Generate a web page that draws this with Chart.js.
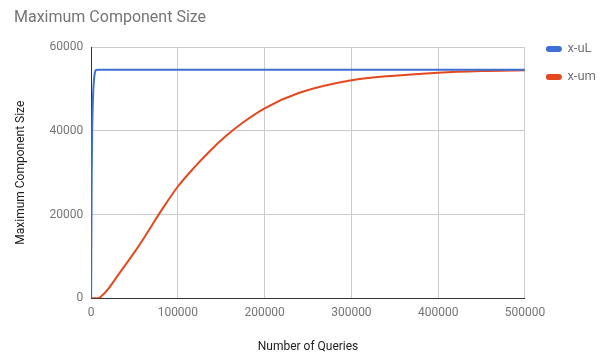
<!DOCTYPE html>
<html>
<head>
<meta charset="utf-8">
<script src="https://cdn.jsdelivr.net/npm/chart.js@4"></script>
<style>
  html, body { margin: 0; padding: 0; background: #fff; }
  #wrap { width: 605px; height: 360px; }
</style>
</head>
<body>
<div id="wrap"><canvas id="chart"></canvas></div>
<script>
const seriesNames = ['x-uL', 'x-um']
const seriesColors = ['#3d6fd5', '#e4491e']

// queries vs max component size
const uLQueries = [0, 300, 700, 1200, 2000, 3000, 4000, 5500, 8000, 500000]
const uLSizes = [0, 15000, 30000, 40000, 47000, 51500, 53500, 54500, 54600, 54600]

const umQueries = [0, 8000, 12000, 20000, 30000, 40000, 50000, 60000, 70000, 82000, 100000, 120000, 137000, 155000, 175000, 200000, 240000, 300000, 350000, 400000, 450000, 500000]
const umSizes = [0, 0, 500, 2300, 5200, 8100, 11000, 14100, 17400, 21300, 26700, 31500, 35200, 38700, 42000, 45400, 49100, 52100, 53200, 53900, 54300, 54500]

const xTicks = [0, 100000, 200000, 300000, 400000, 500000]
const yTicks = [0, 20000, 40000, 60000]

function points(xs, ys) {
  return xs.map((x, i) => ({ x: x, y: ys[i] }))
}

// nudge the legend a bit to the right of the plot, like the google chart
const legendNudge = {
  id: 'legendNudge',
  afterLayout(chart) {
    if (chart.legend) {
      chart.legend.left += 7
      chart.legend.right += 7
    }
  },
}

Chart.defaults.font.family = 'Roboto, "Noto Sans", sans-serif'
Chart.defaults.color = '#757575'

const ctx = document.getElementById('chart').getContext('2d')
const chart = new Chart(ctx, {
  type: 'line',
  data: {
    datasets: [
      {
        label: seriesNames[0],
        data: points(uLQueries, uLSizes),
        borderColor: seriesColors[0],
        backgroundColor: seriesColors[0],
        borderWidth: 2,
        pointRadius: 0,
        cubicInterpolationMode: 'monotone',
      },
      {
        label: seriesNames[1],
        data: points(umQueries, umSizes),
        borderColor: seriesColors[1],
        backgroundColor: seriesColors[1],
        borderWidth: 2,
        pointRadius: 0,
        cubicInterpolationMode: 'monotone',
      },
    ],
  },
  plugins: [legendNudge],
  options: {
    responsive: true,
    maintainAspectRatio: false,
    animation: false,
    layout: { padding: { left: 14, right: 6, top: 0, bottom: 6 } },
    plugins: {
      title: {
        display: true,
        text: 'Maximum Component Size',
        align: 'start',
        color: '#757575',
        font: { size: 16, weight: 'normal' },
        padding: { top: 8, bottom: 20 },
      },
      legend: {
        position: 'right',
        align: 'start',
        title: {
          display: true,
          text: ' ',
          font: { size: 12 },
          padding: { top: 6, bottom: 7 },
        },
        labels: {
          boxWidth: 14,
          boxHeight: 4,
          useBorderRadius: true,
          borderRadius: 2,
          padding: 15,
          color: '#757575',
          font: { size: 13 },
        },
      },
      tooltip: { enabled: false },
    },
    scales: {
      x: {
        type: 'linear',
        min: 0,
        max: 500000,
        afterBuildTicks: (axis) => { axis.ticks = xTicks.map((v) => ({ value: v })) },
        ticks: {
          callback: (v) => String(v),
          color: '#757575',
          font: { size: 12 },
          maxRotation: 0,
          padding: 8,
        },
        grid: { color: '#cccccc', drawTicks: false },
        border: { color: '#333333' },
        title: {
          display: true,
          text: 'Number of Queries',
          color: '#222222',
          font: { size: 12 },
          padding: { top: 11, bottom: 0 },
        },
      },
      y: {
        type: 'linear',
        min: 0,
        max: 60000,
        afterBuildTicks: (axis) => { axis.ticks = yTicks.map((v) => ({ value: v })) },
        ticks: {
          callback: (v) => String(v),
          color: '#757575',
          font: { size: 12 },
          padding: 8,
        },
        grid: { color: '#cccccc', drawTicks: false },
        border: { color: '#333333' },
        title: {
          display: true,
          text: 'Maximum Component Size',
          color: '#222222',
          font: { size: 12 },
          padding: { top: 0, bottom: 13 },
        },
      },
    },
  },
})
</script>
</body>
</html>
